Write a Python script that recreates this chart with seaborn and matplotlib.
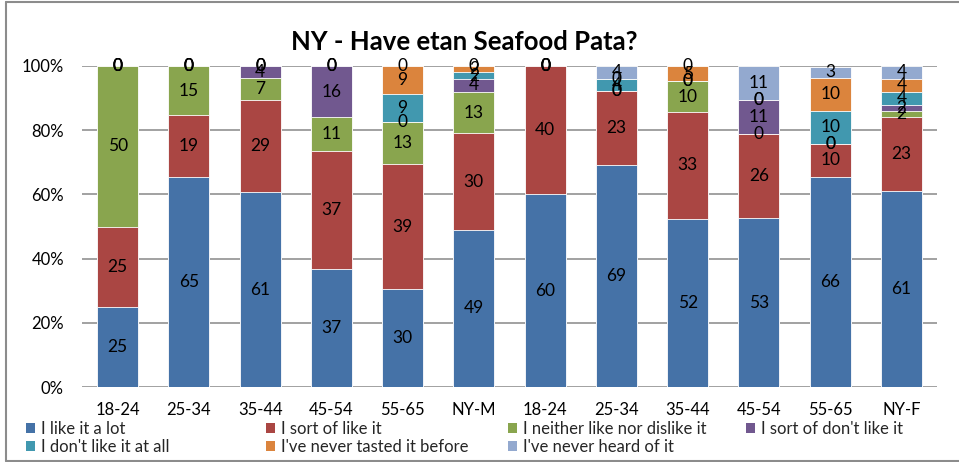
import numpy as np
import pandas as pd
import matplotlib
matplotlib.use("Agg")
import matplotlib.pyplot as plt
import matplotlib.patches as mpatches
import seaborn as sns

# ---------------- data (percent of respondents) ----------------
groups = ["18-24", "25-34", "35-44", "45-54", "55-65", "NY-M",
          "18-24", "25-34", "35-44", "45-54", "55-65", "NY-F"]
series_names = ["I like it a lot", "I sort of like it", "I neither like nor dislike it",
                "I sort of don't like it", "I don't like it at all",
                "I've never tasted it before", "I've never heard of it"]
like_a_lot      = [25.0, 65.4, 60.7, 36.8, 30.4, 49.0, 60.0, 69.2, 52.4, 52.6, 65.5, 61.0]
sort_of_like    = [25.0, 19.2, 28.6, 36.8, 39.1, 30.0, 40.0, 23.1, 33.3, 26.3, 10.3, 23.0]
neither         = [50.0, 15.4, 7.1, 10.5, 13.0, 13.0, 0.0, 0.0, 9.5, 0.0, 0.0, 2.0]
sort_of_dont    = [0.0, 0.0, 3.6, 15.8, 0.0, 4.0, 0.0, 0.0, 0.0, 10.5, 0.0, 2.0]
dont_like       = [0.0, 0.0, 0.0, 0.0, 8.7, 2.0, 0.0, 3.8, 0.0, 0.0, 10.3, 4.0]
never_tasted    = [0.0, 0.0, 0.0, 0.0, 8.7, 2.0, 0.0, 0.0, 4.8, 0.0, 10.3, 4.0]
never_heard     = [0.0, 0.0, 0.0, 0.0, 0.0, 0.0, 0.0, 3.8, 0.0, 10.5, 3.4, 4.0]
y_ticks = [0, 20, 40, 60, 80, 100]
y_tick_labels = ["0%", "20%", "40%", "60%", "80%", "100%"]
title = "NY - Have etan Seafood Pata?"

series_values = [like_a_lot, sort_of_like, neither, sort_of_dont,
                 dont_like, never_tasted, never_heard]
colors = ["#4572A7", "#AA4643", "#89A54E", "#71588F", "#4198AF", "#DB843D", "#93A9CF"]

# ---------------- style ----------------
sns.set_theme(style="white")
plt.rcParams["font.family"] = ["Lato", "DejaVu Sans"]

W, H = 959, 462
fig = plt.figure(figsize=(W / 100, H / 100), dpi=100)
ax = fig.add_axes([82 / W, 1 - 387 / H, (937 - 82) / W, (387 - 66) / H])

vals = np.array(series_values)                 # (7, 12)
cum = np.cumsum(vals, axis=0)
positions = np.arange(len(groups))

df = pd.DataFrame({"pos": positions})
# draw cumulative totals from the top series down so each series is visible
for k in range(len(series_names) - 1, -1, -1):
    df["cum"] = cum[k]
    sns.barplot(data=df, x="pos", y="cum", color=colors[k], saturation=1,
                width=0.575, edgecolor="white", linewidth=0.6, ax=ax, zorder=2)

# data labels at the centre of each segment
for k in range(len(series_names)):
    bottoms = cum[k] - vals[k]
    for i in positions:
        v = vals[k][i]
        ax.text(i, bottoms[i] + v / 2, str(int(np.floor(v + 0.5))),
                ha="center", va="center", fontsize=12.5, color="black", zorder=5)

ax.set_ylim(0, 100)
ax.set_xlim(-0.5, len(groups) - 0.5)
ax.set_yticks(y_ticks)
ax.set_yticklabels(y_tick_labels, fontsize=12)
ax.set_xticks(positions)
ax.set_xticklabels(groups, fontsize=12)
ax.set_xlabel("")
ax.set_ylabel("")
ax.tick_params(axis="y", length=0, pad=13, colors="black")
ax.tick_params(axis="x", length=0, pad=11, colors="black")
ax.yaxis.grid(True, color="#9a9a9a", linewidth=1.3, zorder=0)
ax.set_axisbelow(True)
for s in ax.spines.values():
    s.set_visible(False)

fig.text(464 / W, 1 - 42 / H, title, ha="center", va="center",
         fontsize=18.5, fontweight="bold", color="black")

# legend, four columns at fixed positions
col_x = [26, 266, 508, 746]
col_items = [[0, 4], [1, 5], [2, 6], [3]]
for cx, items in zip(col_x, col_items):
    handles = [mpatches.Patch(facecolor=colors[j], edgecolor="none") for j in items]
    labels = [series_names[j] for j in items]
    fig.legend(handles, labels, loc="upper left",
               bbox_to_anchor=(cx / W, 1 - 421 / H), frameon=False,
               fontsize=12, handlelength=0.55, handleheight=0.55,
               handletextpad=0.35, labelspacing=0.12, borderpad=0,
               borderaxespad=0)

# chart border (left, top, bottom edges visible in the reference)
fig.add_artist(plt.Line2D([6 / W, 6 / W], [1 - 1.5 / H, 1 - 460.5 / H],
                          transform=fig.transFigure, color="#8c8c8c", lw=1.5))
fig.add_artist(plt.Line2D([6 / W, 1.0], [1 - 1.5 / H, 1 - 1.5 / H],
                          transform=fig.transFigure, color="#8c8c8c", lw=1.5))
fig.add_artist(plt.Line2D([6 / W, 1.0], [1 - 460.5 / H, 1 - 460.5 / H],
                          transform=fig.transFigure, color="#8c8c8c", lw=1.5))

fig.savefig("out.png", dpi=100)
